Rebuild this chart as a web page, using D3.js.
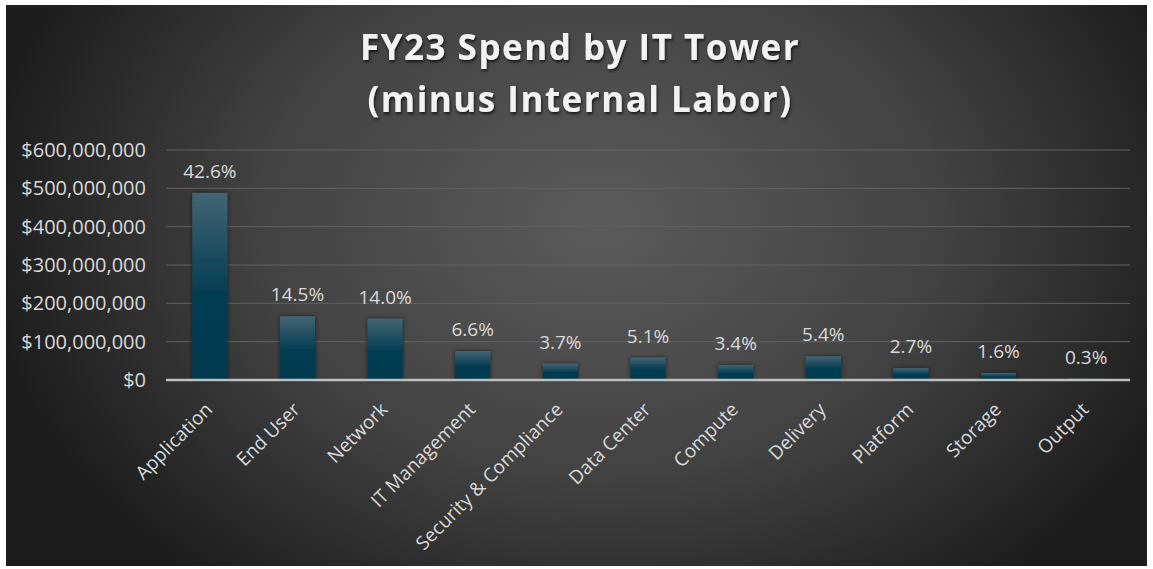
<!DOCTYPE html>
<html>
<head>
<meta charset="utf-8">
<script src="https://cdn.jsdelivr.net/npm/d3@7"></script>
<style>
  body { margin: 0; background: #fff; }
  svg { display: block; }
</style>
</head>
<body>
<div id="chart"></div>
<script>
// data
var towers = ["Application", "End User", "Network", "IT Management", "Security & Compliance",
              "Data Center", "Compute", "Delivery", "Platform", "Storage", "Output"]
var spend = [488000000, 166000000, 160000000, 75600000, 42400000,
             58400000, 39000000, 61900000, 30900000, 18300000, 3400000]
var shareLabels = ["42.6%", "14.5%", "14.0%", "6.6%", "3.7%", "5.1%", "3.4%", "5.4%", "2.7%", "1.6%", "0.3%"]
var yTicks = [0, 100000000, 200000000, 300000000, 400000000, 500000000, 600000000]
var titleLines = ["FY23 Spend by IT Tower", "(minus Internal Labor)"]

var width = 1153,
    height = 569

var svg = d3.select("#chart")
            .append("svg")
            .attr("width", width)
            .attr("height", height)

var defs = svg.append("defs")

var bg = defs.append("radialGradient")
             .attr("id", "bg")
             .attr("gradientUnits", "userSpaceOnUse")
             .attr("cx", 600).attr("cy", 220).attr("r", 620)
             .attr("gradientTransform", "translate(600,220) scale(1,0.75) translate(-600,-220)")
bg.append("stop").attr("offset", "0%").attr("stop-color", "#5b5b5b")
bg.append("stop").attr("offset", "55%").attr("stop-color", "#424242")
bg.append("stop").attr("offset", "100%").attr("stop-color", "#1d1d1d")

var barGrad = defs.append("linearGradient")
                  .attr("id", "barGrad")
                  .attr("x1", 0).attr("y1", 0).attr("x2", 0).attr("y2", 1)
barGrad.append("stop").attr("offset", "0%").attr("stop-color", "#436574")
barGrad.append("stop").attr("offset", "55%").attr("stop-color", "#023c52")
barGrad.append("stop").attr("offset", "100%").attr("stop-color", "#013a4f")

var shadow = defs.append("filter").attr("id", "shadow")
                 .attr("x", "-30%").attr("y", "-30%").attr("width", "160%").attr("height", "160%")
shadow.append("feDropShadow").attr("dx", 0).attr("dy", 0).attr("stdDeviation", 2)
      .attr("flood-color", "#000").attr("flood-opacity", 0.6)

var titleShadow = defs.append("filter").attr("id", "titleShadow")
titleShadow.append("feDropShadow").attr("dx", 1).attr("dy", 2).attr("stdDeviation", 1.5)
           .attr("flood-color", "#000").attr("flood-opacity", 0.7)

svg.append("rect")
   .attr("x", 6).attr("y", 5)
   .attr("width", 1141).attr("height", 561)
   .attr("fill", "url(#bg)")

// title
svg.append("g")
   .attr("filter", "url(#titleShadow)")
   .selectAll("text")
   .data(titleLines)
   .enter().append("text")
   .attr("x", 580)
   .attr("y", function(d, i) { return 60 + i * 52 })
   .attr("text-anchor", "middle")
   .attr("font-family", "Open Sans")
   .attr("font-weight", "bold")
   .attr("font-size", "35px")
   .attr("letter-spacing", "1.5px")
   .attr("fill", "#f2f2f2")
   .text(function(d) { return d })

var x = d3.scaleBand()
          .domain(towers)
          .range([166, 1130])
          .paddingInner(0.6)
          .paddingOuter(0.3)

var y = d3.scaleLinear()
          .domain([0, 600000000])
          .range([380, 150])

// gridlines
svg.append("g")
   .selectAll("line")
   .data(yTicks.slice(1))
   .enter().append("line")
   .attr("x1", 166).attr("x2", 1130)
   .attr("y1", function(d) { return y(d) })
   .attr("y2", function(d) { return y(d) })
   .attr("stroke", "#626262")
   .attr("stroke-width", 1)

// y axis
var yAxis = svg.append("g")
               .attr("transform", "translate(146,0)")
               .call(d3.axisLeft(y).tickValues(yTicks).tickSize(0).tickPadding(0)
                       .tickFormat(function(d) { return "$" + d3.format(",")(d) }))
yAxis.select(".domain").remove()
yAxis.selectAll("text")
     .attr("font-family", "Open Sans")
     .attr("font-size", "20px")
     .attr("fill", "#d9d9d9")

// bars
svg.append("g")
   .selectAll("rect")
   .data(spend)
   .enter().append("rect")
   .attr("x", function(d, i) { return x(towers[i]) })
   .attr("y", function(d) { return y(d) })
   .attr("width", x.bandwidth())
   .attr("height", function(d) { return y(0) - y(d) })
   .attr("fill", "url(#barGrad)")
   .attr("filter", "url(#shadow)")

// value labels
svg.append("g")
   .selectAll("text")
   .data(spend)
   .enter().append("text")
   .attr("x", function(d, i) { return x(towers[i]) + x.bandwidth() / 2 })
   .attr("y", function(d) { return y(d) - 15 })
   .attr("text-anchor", "middle")
   .attr("font-family", "Open Sans")
   .attr("font-size", "19px")
   .attr("fill", "#d9d9d9")
   .text(function(d, i) { return shareLabels[i] })

// x axis
var xAxis = svg.append("g")
               .attr("transform", "translate(0,380)")
               .call(d3.axisBottom(x).tickSize(0).tickPadding(0))
xAxis.select(".domain")
     .attr("stroke", "#bfbfbf")
     .attr("stroke-width", 2.5)
     .attr("d", "M166,0H1130")
xAxis.selectAll("text")
     .attr("font-family", "Open Sans")
     .attr("font-size", "19px")
     .attr("fill", "#d9d9d9")
     .attr("text-anchor", "end")
     .attr("dy", "0.35em")
     .attr("transform", "translate(-1,26) rotate(-45)")
</script>
</body>
</html>
